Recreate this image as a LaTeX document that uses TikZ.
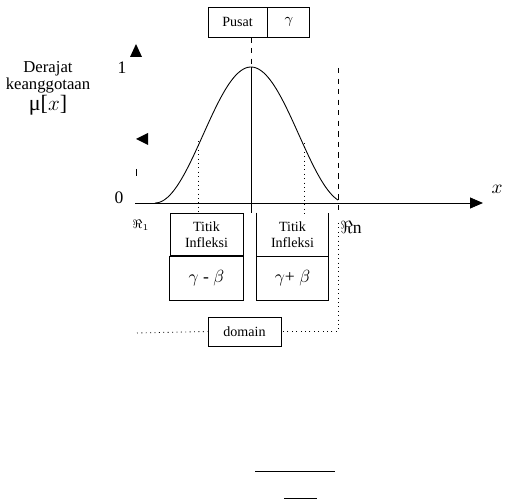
\documentclass[tikz,border=0pt]{standalone}
\usepackage{amsmath}
\usepackage{amssymb}
\usepackage{fontspec}
\setmainfont{Liberation Serif}
\usepackage{tikz}
\usetikzlibrary{arrows.meta, positioning}

\begin{document}
\begin{tikzpicture}[
    x=0.02cm, y=-0.02cm,
    every node/.style={font=\fontsize{8}{9}\selectfont},
    sel/.style={
        rectangle,
        draw=black,
        line width=0.5pt,
        align=center,
        inner sep=0pt,
        minimum height=0.6cm
    },
    kotak/.style={
        rectangle,
        align=center,
        inner sep=0pt,
        minimum height=0.86cm
    },
    garis/.style={
        line width=0.5pt
    },
    panah/.style={
        -{Triangle[length=0.26cm, width=0.22cm]},
        line width=0.5pt
    }
]
\useasboundingbox (0,0) rectangle (511,500);

% Titik bantu
\coordinate (puncak) at (251,67);
\coordinate (asal) at (135,203);
\coordinate (ujung) at (483,203);
\coordinate (infl1) at (198,141);
\coordinate (infl2) at (304,143);
\coordinate (batas) at (338,68);
\coordinate (kiri) at (137,333);

% Node utama
\node[sel, minimum width=1.18cm] (pusat) at (237.5,22) {Pusat};
\node[sel, minimum width=0.84cm, right=0pt of pusat] (gamma) {$\gamma$};

\node[font=\fontsize{9.5}{10}\selectfont, align=center] (judul) at (48,88)
    {Derajat\\keanggotaan\\{\fontsize{12.5}{12}\selectfont μ[$x$]}};

\node[font=\fontsize{10}{10}\selectfont] (satu) at (122,68) {1};
\node[font=\fontsize{10}{10}\selectfont] (nol) at (119,198) {0};
\node[font=\fontsize{11}{11}\selectfont] (xlabel) at (497,189) {$x$};
\node[font=\fontsize{7}{8}\selectfont] (r1) at (141,225) {$\Re_1$};
\node[font=\fontsize{10}{10}\selectfont] (rn) at (351,227) {$\Re$n};

\node[kotak, minimum width=1.46cm, draw, garis] (infkiri) at (206.5,234.5) {Titik\\Infleksi};
\node[kotak, minimum width=1.46cm, below=0pt of infkiri, font=\fontsize{10}{10}\selectfont] (betakiri) {$\gamma$ - $\beta$};

\node[kotak, minimum width=1.42cm] (infkanan) at (292.5,234.5) {Titik\\Infleksi};
\node[kotak, minimum width=1.42cm, below=0pt of infkanan, font=\fontsize{10}{10}\selectfont] (betakanan) {$\gamma$+ $\beta$};

\node[sel, minimum width=1.46cm, minimum height=0.58cm] (domain) at (244.5,331.5) {domain};

% Kurva dan sumbu
\draw[panah] (asal) -- (ujung);
\draw[garis] plot[domain=155:338, samples=90, smooth]
    (\x, {203-68*(1+cos(1.875*(\x-251)))});

\fill (130,57) -- (136,44) -- (142,57) -- cycle;
\fill (136,139) -- (148,133) -- (148,145) -- cycle;
\draw[garis] (136,169) -- (136,176);

% Garis pusat dan batas
\draw[garis, dashed] (pusat.south -| puncak) -- (puncak);
\draw[garis] (puncak) -- (251,213);
\draw[garis, dashed] (batas) -- (338,212);

\draw[garis, dotted] (infl1) -- (infl1 |- infkiri.north);
\draw[garis, dotted] (infl2) -- (304,215);

% Kotak titik infleksi
\draw[line width=1.2pt] (infkiri.south west) -- (infkiri.south east);
\draw[garis] (betakiri.north west) rectangle (betakiri.south east);
\draw[garis] (infkanan.north west) -- (betakanan.south west) -- (betakanan.south east) -- (infkanan.north east);
\draw[garis] (infkanan.south west) -- (infkanan.south east);

% Garis domain
\draw[garis, dotted] (338,223) |- (domain.east);
\draw[garis, dotted] (kiri) -- (domain.west);

\draw[garis] (255,471) -- (335,471);
\draw[garis] (284,498) -- (317,498);

\end{tikzpicture}
\end{document}
